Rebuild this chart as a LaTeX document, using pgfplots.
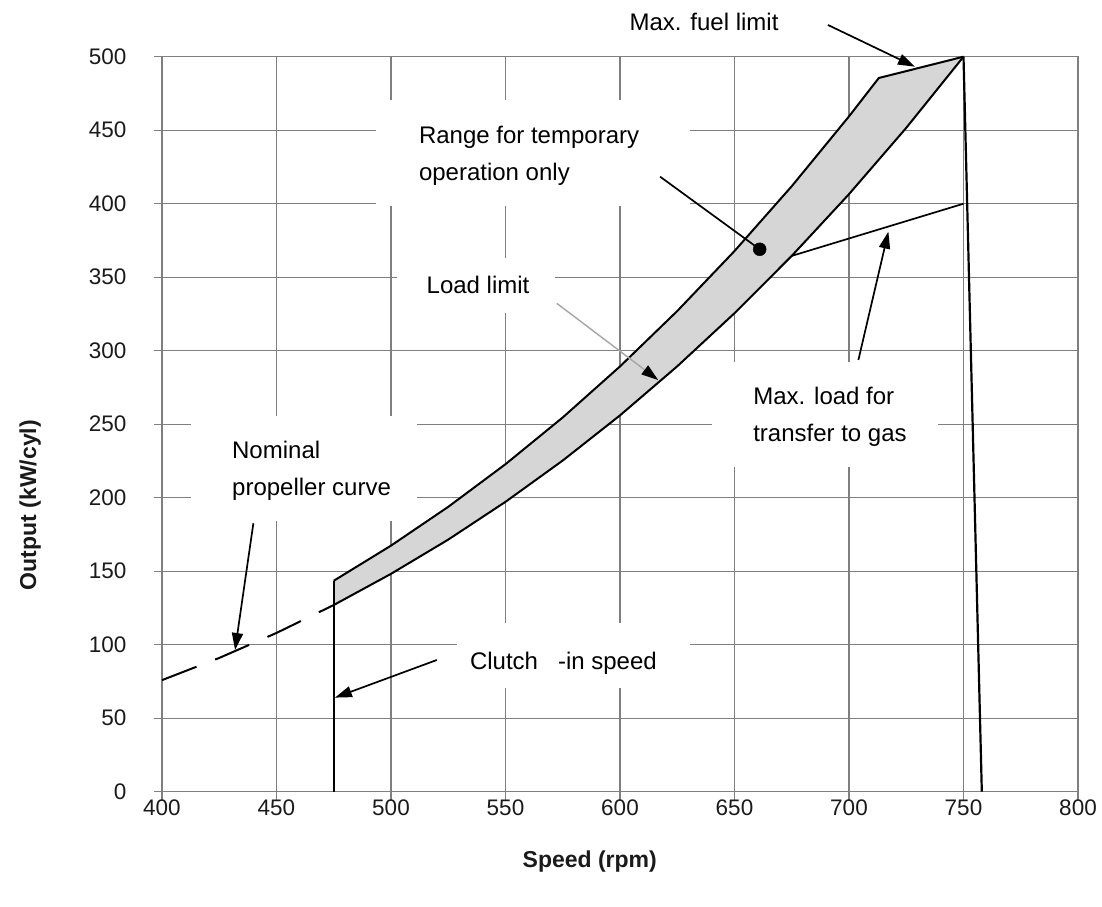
\documentclass[border=0pt]{standalone}
\usepackage{fontspec}
\setmainfont{Liberation Sans}
\usepackage{pgfplots}
\usepackage{pgfplotstable}
\pgfplotsset{compat=1.18}
\usetikzlibrary{arrows.meta}

\definecolor{gridgrey}{HTML}{7F7F7F}
\definecolor{bandgrey}{HTML}{D6D6D6}
\definecolor{ink}{HTML}{1A1A1A}

% Nominal propeller curve (lower edge of the band)
\pgfplotstableread{
rpm kw
475 127.0
500 148.2
525 171.5
550 197.2
575 225.3
600 256.0
625 289.4
650 325.5
675 364.5
700 406.5
725 451.6
750 500.0
}\propcurve

% Load limit (upper edge of the band)
\pgfplotstableread{
rpm kw
475 143.5
500 167.4
525 193.8
550 222.8
575 254.6
600 289.3
625 327.0
650 367.8
675 411.9
700 459.4
713 485.5
750 500.0
}\loadlimit

\begin{document}
\begin{tikzpicture}
\useasboundingbox (-162pt,-114.3pt) rectangle (940pt,791.7pt);
\begin{axis}[
  scale only axis,
  width=916pt, height=735pt,
  xmin=400, xmax=800, ymin=0, ymax=500,
  xtick={400,450,...,800},
  ytick={0,50,...,500},
  grid=major,
  major grid style={gridgrey, line width=1.1pt},
  axis line style={gridgrey, line width=1.3pt},
  tick style={gridgrey, line width=1.1pt},
  major tick length=8pt,
  tick align=outside,
  tick pos=left,
  clip=false,
  /pgf/number format/assume math mode=true,
  ticklabel style={font=\fontsize{22.5}{26}\selectfont, text=ink},
  yticklabel style={xshift=-24pt},
  xticklabel style={yshift=3pt},
  xlabel={\textbf{Speed (rpm)}},
  ylabel={\textbf{Output (kW/cyl)}},
  label style={font=\fontsize{23}{26}\selectfont, text=ink},
  xlabel style={at={(axis description cs:0.467,-0.0957)}, anchor=center},
  ylabel style={at={(axis description cs:-0.144,0.39)}, anchor=center, rotate=0},
  every node/.append style={text=ink},
]

% white text boxes over the grid
\fill[white] (axis cs:493.4,470.5) rectangle (axis cs:630.6,398.4);
\fill[white] (axis cs:502.6,363.0) rectangle (axis cs:571.6,325.5);
\fill[white] (axis cs:412.7,255.6) rectangle (axis cs:511.4,184.2);
\fill[white] (axis cs:528.8,114.8) rectangle (axis cs:630.6,70.5);
\fill[white] (axis cs:640.2,292.3) rectangle (axis cs:738.9,220.9);

% shaded operating band
\addplot[fill=bandgrey, draw=none] coordinates {
  (475,127.0) (475,143.5) (500,167.4) (525,193.8) (550,222.8) (575,254.6)
  (600,289.3) (625,327.0) (650,367.8) (675,411.9) (700,459.4) (713,485.5)
  (750,500.0) (725,451.6) (700,406.5) (675,364.5) (650,325.5) (625,289.4)
  (600,256.0) (575,225.3) (550,197.2) (525,171.5) (500,148.2)
} -- cycle;

\addplot[black, line width=2pt] table[x=rpm, y=kw] {\propcurve};
\addplot[black, line width=2pt] table[x=rpm, y=kw] {\loadlimit};
\addplot[black, line width=2pt, dash pattern=on 37pt off 20pt]
  coordinates {(400,75.9) (425,91.0) (450,108.0) (475,127.0)};
\addplot[black, line width=2.2pt] coordinates {(475,0) (475,143.5)};
\addplot[black, line width=2.2pt] coordinates {(750,500) (758,0)};
\addplot[black, line width=1.7pt] coordinates {(675,364.5) (750,400)};
\addplot[only marks, mark=*, mark size=6.5pt, black] coordinates {(661,369)};

% annotations
\tikzset{note/.style={font=\fontsize{24}{37}\selectfont, align=left, inner sep=0pt},
         pointer/.style={black, line width=1.7pt, -{Triangle[length=17pt,width=11pt]}}}

\node[note] at (axis cs:636.7,523.6) {Max. fuel limit};
\draw[pointer] (axis cs:690.8,521.6) -- (axis cs:728.8,493.2);

\node[note] at (axis cs:560.3,432.4) {Range for temporary\\operation only};
\draw[black, line width=1.7pt] (axis cs:617.5,418.4) -- (axis cs:661,369);

\node[note] at (axis cs:538,344.7) {Load limit};
\draw[gridgrey!70, line width=1.4pt, -{Triangle[length=17pt,width=11pt,color=black]}]
  (axis cs:572.4,332.2) -- (axis cs:616.7,280);

\node[note] at (axis cs:465.3,218.2) {Nominal\\propeller curve};
\draw[pointer] (axis cs:439.9,182.6) -- (axis cs:431.9,96.4);

\node[note] at (axis cs:575.3,87.6) {Clutch\hspace{20pt}-in speed};
\draw[pointer] (axis cs:520,89.6) -- (axis cs:475.5,64);

\node[note] at (axis cs:691.7,255.2) {Max. load for\\transfer to gas};
\draw[pointer] (axis cs:704.1,293.7) -- (axis cs:717.2,381);

\end{axis}
\end{tikzpicture}
\end{document}
